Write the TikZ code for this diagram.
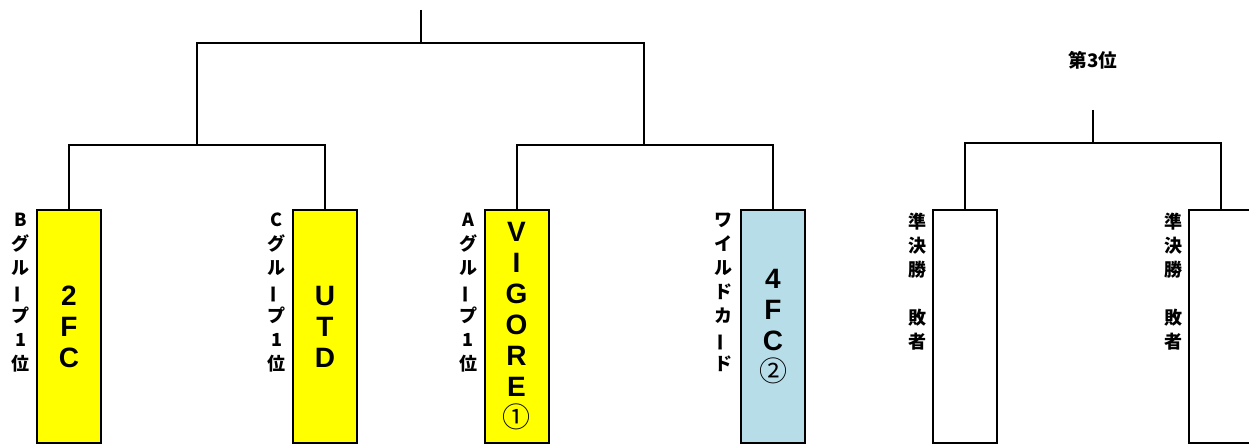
\documentclass[tikz,border=0pt]{standalone}
\usepackage{fontspec}
\setmainfont{Noto Sans CJK JP}
\newfontfamily\teamfont{Liberation Sans}
\usepackage{graphicx}
\usetikzlibrary{positioning}
\definecolor{wildblue}{RGB}{183,222,232}
\definecolor{teamyellow}{RGB}{255,255,0}
\tikzstyle{team}=[rectangle, draw
,line width=1.5pt
,minimum width=48pt
,minimum height=174.75pt
,inner sep=0pt
,align=center
,font=\teamfont\bfseries\fontsize{21}{23.25}\selectfont
]
\tikzstyle{tag}=[anchor=north, align=center, inner sep=0pt
,font=\bfseries\fontsize{13.5}{18}\selectfont
]
\tikzstyle{edge} = [draw,line width=1.5pt,-]
\newcommand{\nobashi}{\rotatebox[origin=c]{90}{ー}}
\newcommand{\maru}[1]{{\normalfont #1}}

\begin{document}
\begin{tikzpicture}[x=0.75pt,y=-0.75pt]
    \useasboundingbox (0,0) rectangle (1249,445);
    \clip (0,0) rectangle (1249,445);
    % First we draw the team boxes
    \foreach \pos/\name/\col/\txt in {{(69,326.5)/fc2/teamyellow/{2\\F\\C}},
        {(325,326.5)/utd/teamyellow/{U\\T\\D}},
        {(516.5,326.5)/vigore/teamyellow/{V\\I\\G\\O\\R\\E\\\maru{①}}},
        {(773,326.5)/fc4/wildblue/{4\\F\\C\\\maru{②}}},
        {(965,326.5)/lose1/white/{}}, {(1221,326.5)/lose2/white/{}}}
        \node[team, fill=\col] (\name) at \pos {\txt};
    % Then the labels beside them
    \foreach \pos/\name/\txt in {{(20.5,213)/tagB/{B\\グ\\ル\\\nobashi\\プ\\1\\位}},
        {(276.5,213)/tagC/{C\\グ\\ル\\\nobashi\\プ\\1\\位}},
        {(468,213)/tagA/{A\\グ\\ル\\\nobashi\\プ\\1\\位}},
        {(723,213)/tagW/{ワ\\イ\\ル\\ド\\カ\\\nobashi\\ド}},
        {(917,213)/tagL1/{準\\決\\勝\\ \\敗\\者}},
        {(1173,213)/tagL2/{準\\決\\勝\\ \\敗\\者}}}
        \node[tag] (\name) at \pos {\txt};
    \node[font=\bfseries\fontsize{14}{16}\selectfont] (third) at (1093,60) {第3位};
    % Joints of the brackets
    \coordinate (final) at (421,10);
    \coordinate (f) at (421,43);
    \coordinate (s1) at (197,145);
    \coordinate (s2) at (644,145);
    \coordinate (t3) at (1093,110);
    \coordinate (t) at (1093,143);
    % Connect boxes with edges
    \path[edge] (final) -- (f);
    \path[edge] (s1) |- (f) -| (s2);
    \foreach \left/\join/\right in {fc2/s1/utd, vigore/s2/fc4, lose1/t/lose2}
        \path[edge] (\left.north) |- (\join) -| (\right.north);
    \path[edge] (t3) -- (t);
\end{tikzpicture}
\end{document}
